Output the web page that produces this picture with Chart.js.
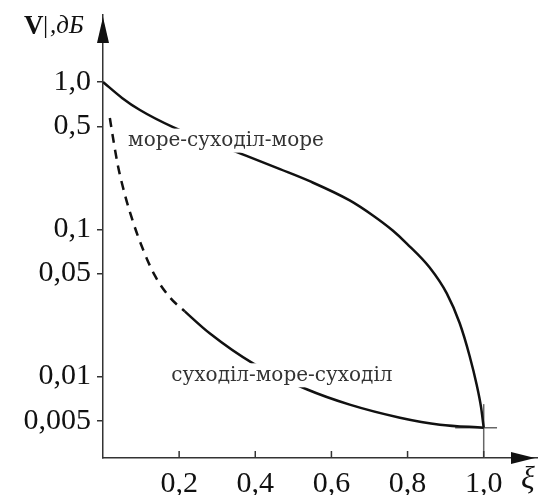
<!DOCTYPE html>
<html>
<head>
<meta charset="utf-8">
<script src="https://cdn.jsdelivr.net/npm/chart.js@4/dist/chart.umd.min.js"></script>
<style>
  html, body { margin: 0; padding: 0; background: #fff; }
  canvas { display: block; }
</style>
</head>
<body>
<canvas id="chart" width="541" height="495"></canvas>
<script>
// curve "море-суходіл-море"
const xiUpper = [0, 0.05, 0.097, 0.184, 0.365, 0.465, 0.543, 0.648, 0.709, 0.761, 0.798, 0.858, 0.903, 0.937, 0.963, 0.982, 0.993, 1.0];
const vUpper = [1.0, 0.78, 0.645, 0.494, 0.324, 0.256, 0.212, 0.157, 0.124, 0.098, 0.08, 0.055, 0.0367, 0.023, 0.0138, 0.0087, 0.0062, 0.0045];

// curve "суходіл-море-суходіл" (dashed up to index 8)
const xiLower = [0.018, 0.026, 0.039, 0.058, 0.079, 0.105, 0.136, 0.176, 0.215, 0.281, 0.394, 0.535, 0.648, 0.78, 0.885, 1.0];
const vLower = [0.569, 0.423, 0.272, 0.17, 0.112, 0.0731, 0.0486, 0.0344, 0.0277, 0.0196, 0.0123, 0.0082, 0.00645, 0.00526, 0.00471, 0.0045];
const lowerDashedUntil = 8;

// thin construction lines at the end point
const guideVX = [1.0, 1.0];
const guideVY = [0.0028, 0.0065];
const guideHX = [0.925, 1.035];
const guideHY = [0.0045, 0.0045];

const xTickValues = [0.2, 0.4, 0.6, 0.8, 1.0];
const xTickLabels = ["0,2", "0,4", "0,6", "0,8", "1,0"];
const yTickValues = [1, 0.5, 0.1, 0.05, 0.01, 0.005];
const yTickLabels = ["1,0", "0,5", "0,1", "0,05", "0,01", "0,005"];

const curveLabels = [
    { text: "море-суходіл-море", x: 0.323, y: 0.4 },
    { text: "суходіл-море-суходіл", x: 0.47, y: 0.0102 },
];

const pts = (xs, ys) => xs.map((x, i) => ({ x, y: ys[i] }));

const decorations = {
    id: "decorations",
    afterDatasetsDraw(chart) {
        const { ctx, chartArea: a, scales } = chart;
        ctx.save();
        // curve labels on white boxes, so the lines break behind them
        ctx.font = "20px 'DejaVu Serif'";
        ctx.textAlign = "center";
        ctx.textBaseline = "middle";
        curveLabels.forEach((l) => {
            const px = scales.x.getPixelForValue(l.x);
            const py = scales.y.getPixelForValue(l.y);
            const w = ctx.measureText(l.text).width;
            ctx.fillStyle = "#fff";
            ctx.fillRect(px - w / 2 - 3, py - 12, w + 6, 24);
            ctx.fillStyle = "#333";
            ctx.fillText(l.text, px, py);
        });
        // x tick marks point up into the plot
        ctx.strokeStyle = "#333";
        ctx.lineWidth = 1.5;
        xTickValues.forEach((v) => {
            const px = scales.x.getPixelForValue(v);
            ctx.beginPath();
            ctx.moveTo(px, a.bottom);
            ctx.lineTo(px, a.bottom - 7);
            ctx.stroke();
        });
        // arrow heads
        ctx.fillStyle = "#111";
        ctx.beginPath();
        ctx.moveTo(a.left, a.top + 2);
        ctx.lineTo(a.left - 6, a.top + 28);
        ctx.lineTo(a.left + 6, a.top + 28);
        ctx.closePath();
        ctx.fill();
        ctx.beginPath();
        ctx.moveTo(a.right - 2, a.bottom);
        ctx.lineTo(a.right - 26, a.bottom - 6);
        ctx.lineTo(a.right - 26, a.bottom + 6);
        ctx.closePath();
        ctx.fill();
        // axis titles
        ctx.textAlign = "left";
        ctx.textBaseline = "alphabetic";
        ctx.fillStyle = "#111";
        ctx.font = "bold 27px 'Liberation Serif'";
        ctx.fillText("V", 24, 34);
        ctx.font = "26px 'Liberation Serif'";
        ctx.fillText("|", 43, 33);
        ctx.font = "italic 25px 'Liberation Serif'";
        ctx.fillText(",дБ", 50, 33);
        ctx.font = "italic 32px 'Liberation Serif'";
        ctx.fillText("ξ", 521, 488);
        ctx.restore();
    },
};

new Chart(document.getElementById("chart"), {
    type: "line",
    data: {
        datasets: [
            {
                data: pts(xiUpper, vUpper),
                borderColor: "#111",
                borderWidth: 2.5,
                pointRadius: 0,
                cubicInterpolationMode: "monotone",
            },
            {
                data: pts(xiLower, vLower),
                borderColor: "#111",
                borderWidth: 2.5,
                pointRadius: 0,
                cubicInterpolationMode: "monotone",
                segment: {
                    borderDash: (c) => (c.p1DataIndex <= lowerDashedUntil ? [9, 7] : undefined),
                },
            },
            {
                data: pts(guideVX, guideVY),
                borderColor: "#666",
                borderWidth: 1.5,
                pointRadius: 0,
            },
            {
                data: pts(guideHX, guideHY),
                borderColor: "#666",
                borderWidth: 1.5,
                pointRadius: 0,
            },
        ],
    },
    options: {
        responsive: false,
        animation: false,
        layout: { padding: { top: 15, left: 23, right: 4, bottom: 0 } },
        plugins: { legend: { display: false }, tooltip: { enabled: false } },
        scales: {
            x: {
                type: "linear",
                min: 0,
                max: 1.14,
                afterBuildTicks: (s) => {
                    s.ticks = xTickValues.map((value) => ({ value }));
                },
                afterFit: (s) => {
                    s.height = 37;
                },
                ticks: {
                    padding: 0,
                    color: "#111",
                    font: { family: "'Liberation Serif'", size: 30 },
                    callback: (v) => xTickLabels[xTickValues.indexOf(v)],
                },
                grid: { display: false },
                border: { display: true, color: "#333", width: 1.5 },
            },
            y: {
                type: "logarithmic",
                min: 0.0028,
                max: 2.85,
                afterBuildTicks: (s) => {
                    s.ticks = yTickValues.map((value) => ({ value }));
                },
                afterFit: (s) => {
                    s.width = 80;
                    s.paddingTop = 0;
                    s.paddingBottom = 0;
                },
                ticks: {
                    padding: 6,
                    color: "#111",
                    font: { family: "'Liberation Serif'", size: 30 },
                    callback: (v) => yTickLabels[yTickValues.indexOf(v)],
                },
                grid: { drawOnChartArea: false, tickLength: 6, color: "#333", lineWidth: 1.5 },
                border: { display: true, color: "#333", width: 1.5 },
            },
        },
    },
    plugins: [decorations],
});
</script>
</body>
</html>
